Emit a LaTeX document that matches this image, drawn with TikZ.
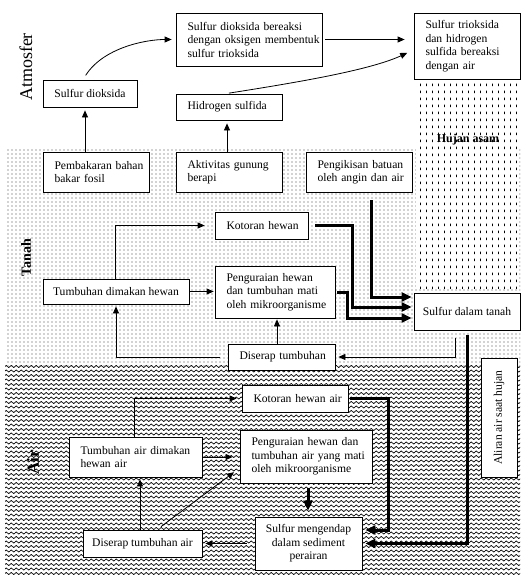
\documentclass[tikz,border=0pt]{standalone}
\usepackage{fontspec}
\setmainfont{Liberation Serif}
\usetikzlibrary{arrows.meta,patterns}
\newcommand\bodyfont{\fontsize{11.6}{13.5}\selectfont}
\pgfdeclarepatternformonly{smalldots}{\pgfqpoint{-1pt}{-1pt}}{\pgfqpoint{3pt}{3pt}}{\pgfqpoint{4pt}{4pt}}{%
  \pgfpathcircle{\pgfqpoint{0pt}{0pt}}{0.65pt}%
  \pgfusepath{fill}}
\pgfdeclarepatternformonly{vdash}{\pgfqpoint{0pt}{0pt}}{\pgfqpoint{5.5pt}{7pt}}{\pgfqpoint{5.5pt}{7pt}}{%
  \pgfsetlinewidth{0.7pt}%
  \pgfpathmoveto{\pgfqpoint{2.75pt}{2pt}}\pgfpathlineto{\pgfqpoint{2.75pt}{5pt}}%
  \pgfusepath{stroke}}
\pgfdeclarepatternformonly{wavy}{\pgfqpoint{0pt}{-2.25pt}}{\pgfqpoint{5pt}{2.25pt}}{\pgfqpoint{5pt}{4.5pt}}{%
  \pgfsetlinewidth{0.65pt}%
  \pgfpathmoveto{\pgfqpoint{0pt}{0pt}}%
  \pgfpathcurveto{\pgfqpoint{0.8pt}{1.4pt}}{\pgfqpoint{1.7pt}{1.4pt}}{\pgfqpoint{2.5pt}{0pt}}%
  \pgfpathcurveto{\pgfqpoint{3.3pt}{-1.4pt}}{\pgfqpoint{4.2pt}{-1.4pt}}{\pgfqpoint{5pt}{0pt}}%
  \pgfusepath{stroke}}
\begin{document}
\begin{tikzpicture}[x=1pt,y=-1pt,
  box/.style={draw, line width=0.8pt, fill=white, font=\bodyfont, inner ysep=2pt},
  lbox/.style={box, align=left, inner xsep=11.5pt},
  cbox/.style={box, align=center, inner xsep=2pt},
  arr/.style={line width=0.8pt, -{Triangle[length=7pt,width=6pt]}},
  tarr/.style={line width=3pt, -{Triangle[length=10pt,width=9pt]}},
  zonelabel/.style={inner sep=0pt}]
\useasboundingbox (0,0) rectangle (529,578);
% zones
\fill[pattern=smalldots, pattern color=black!75] (5,148) rectangle (520,365);
\fill[white] (416,83) rectangle (518,288);
\fill[pattern=vdash] (416,83) rectangle (518,288);
\fill[pattern=wavy] (5,365) rectangle (520,575);
% zone labels
\node[zonelabel, rotate=90, font=\fontsize{18}{20}\selectfont] (latm) at (26,67) {Atmosfer};
\node[zonelabel, rotate=90, font=\fontsize{14}{16}\selectfont\bfseries] (ltan) at (26,258) {Tanah};
\node[zonelabel, rotate=90, font=\fontsize{17}{19}\selectfont\bfseries] (lair) at (33,462) {Air};
\node[zonelabel, font=\fontsize{12}{14}\selectfont\bfseries] (lhuj) at (468,140) {Hujan asam};
% atmosphere
\node[cbox, minimum width=94pt, minimum height=27pt] (sd) at (90,93.5) {Sulfur dioksida};
\node[lbox, text width=123pt, minimum height=53pt] (sdb) at (249,39.5) {\mbox{Sulfur dioksida bereaksi}\\\mbox{dengan oksigen membentuk}\\\mbox{sulfur  trioksida}};
\node[lbox, text width=83pt, minimum height=26pt] (hs) at (229,107) {\mbox{Hidrogen sulfida}};
\node[lbox, text width=83pt, minimum height=66pt] (st) at (467,46) {\mbox{Sulfur  trioksida}\\\mbox{dan hidrogen}\\\mbox{sulfida bereaksi}\\\mbox{dengan air}};
% soil
\node[lbox, text width=83pt, minimum height=40pt] (pb) at (96,172) {\mbox{Pembakaran bahan}\\\mbox{bakar fosil}};
\node[lbox, text width=83pt, minimum height=40pt] (ag) at (229,172) {\mbox{Aktivitas gunung}\\\mbox{berapi}};
\node[lbox, text width=83pt, minimum height=40pt] (pk) at (359,172) {\mbox{Pengikisan batuan}\\\mbox{oleh angin dan air}};
\node[lbox, text width=70pt, minimum height=27pt] (kh) at (261.5,225.5) {\mbox{Kotoran hewan}};
\node[lbox, text width=97pt, minimum height=52pt] (ph) at (275,292) {\mbox{Penguraian hewan}\\\mbox{dan tumbuhan mati}\\\mbox{oleh  mikroorganisme}};
\node[cbox, minimum width=146pt, minimum height=25pt] (tdh) at (116,291.5) {Tumbuhan dimakan hewan};
\node[lbox, text width=84pt, minimum height=26pt] (dt) at (281.5,357) {\mbox{Diserap tumbuhan}};
\node[cbox, minimum width=106pt, minimum height=37pt] (sdt) at (467,311.5) {Sulfur dalam tanah};
% water
\node[box, rotate=90, minimum width=119pt, minimum height=36pt, inner sep=2pt] (ash) at (499,417.5) {Aliran air saat hujan};
\node[lbox, text width=83pt, minimum height=27pt] (kha) at (295,398.5) {\mbox{Kotoran hewan air}};
\node[lbox, text width=109pt, minimum height=53pt] (pha) at (306,456.5) {\mbox{Penguraian hewan dan}\\\mbox{tumbuhan air yang mati}\\\mbox{oleh  mikroorganisme}};
\node[lbox, text width=110pt, minimum height=40pt] (tda) at (135.5,457) {\mbox{Tumbuhan air dimakan}\\\mbox{hewan air}};
\node[cbox, minimum width=119pt, minimum height=27pt] (dta) at (142.5,543.5) {Diserap tumbuhan air};
\node[cbox, minimum width=107pt, minimum height=53pt] (sme) at (308.5,543.5) {Sulfur mengendap\\dalam  sediment\\perairan};
% thin connectors, atmosphere
\draw[arr, shorten >=3pt] (85,0 |- pb.north) -- (85,0 |- sd.south);
\draw[arr, shorten >=3pt] (227,0 |- ag.north) -- (227,0 |- hs.south);
\draw[arr, shorten <=5pt, shorten >=4pt] (83,0 |- sd.north) .. controls (103,48) and (145,39.5) .. (sdb.west);
\draw[arr, shorten <=3pt, shorten >=9pt] (sdb.east) -- (st.west |- sdb.east);
\draw[arr, shorten <=3pt, shorten >=7pt] (226,0 |- hs.north) .. controls (300,82) and (370,70) .. (st.west |- 0,50);
% thin connectors, soil
\draw[arr, shorten >=10pt] (115,0 |- tdh.north) |- (kh.west);
\draw[arr, shorten >=1pt] (tdh.east) -- (ph.west |- tdh.east);
\draw[arr, shorten <=8pt, shorten >=2pt] (dt.west) -| (tdh.south);
\draw[arr, shorten >=1pt] (277,0 |- dt.north) -- (277,0 |- ph.south);
\draw[arr, shorten <=8pt, shorten >=3pt] (455,0 |- sdt.south) |- (dt.east);
% thick connectors, soil
\draw[tarr, shorten <=8pt, shorten >=2pt] (371,0 |- pk.south) |- (sdt.west |- 0,297);
\draw[tarr, shorten <=7pt, shorten >=2pt] (kh.east) -- (352,0 |- kh.east) |- (sdt.west |- 0,307);
\draw[tarr, shorten <=2pt, shorten >=2pt] (ph.east) -- (347,0 |- ph.east) |- (sdt.west |- 0,318);
% thick connectors, water
\draw[tarr, shorten <=5pt, shorten >=3pt] (467,0 |- sdt.south) |- (sme.east);
\draw[tarr, shorten <=2pt, shorten >=3pt] (kha.east) -- (388,0 |- kha.east) |- (sme.east |- 0,530);
\draw[tarr, shorten <=5pt, shorten >=6pt] (308,0 |- pha.south) -- (308,0 |- sme.north);
% thin connectors, water
\draw[arr, shorten >=5pt] (134,0 |- tda.north) |- (kha.west);
\draw[arr, shorten <=1pt, shorten >=7pt] (tda.east) -- (pha.west |- tda.east);
\draw[arr, shorten >=2pt] (140,0 |- dta.north) -- (140,0 |- tda.south);
\draw[arr, shorten <=5pt, shorten >=7pt] (157,0 |- dta.north) -- (pha.west |- 0,468);
\draw[arr, shorten <=8pt, shorten >=3pt] (sme.west) -- (dta.east);
\end{tikzpicture}
\end{document}
